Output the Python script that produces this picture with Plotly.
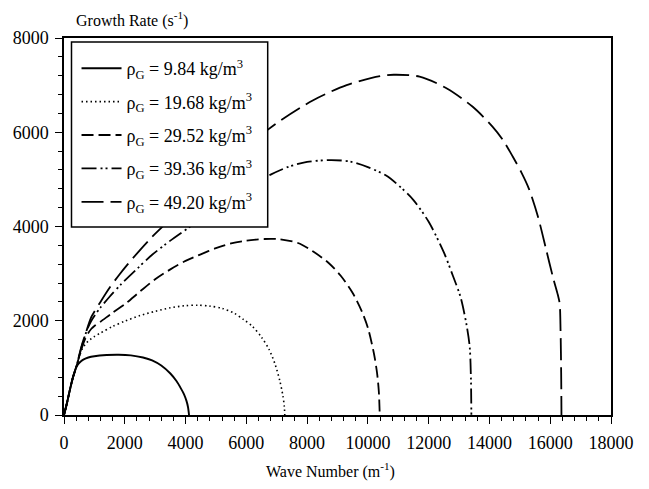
import plotly.graph_objects as go

# Growth rate vs. wave number for five gas densities
wave_number_1 = [0, 100, 200, 300, 400, 480, 560, 650, 800, 1000, 1400, 1800, 2200, 2600, 2900,
                 3200, 3500, 3700, 3850, 3950, 4030, 4080, 4115]
growth_rate_1 = [0, 260, 550, 810, 1010, 1090, 1140, 1180, 1220, 1248, 1272, 1278, 1265, 1220, 1160,
                 1050, 880, 720, 560, 440, 300, 170, 0]

wave_number_2 = [0, 100, 200, 300, 400, 500, 600, 700, 800, 900, 1000, 1200, 1600, 2000, 2500, 3000,
                 3500, 4000, 4400, 4800, 5200, 5600, 5900, 6200, 6500, 6750, 6950, 7100, 7200,
                 7250, 7265]
growth_rate_2 = [0, 260, 550, 810, 1010, 1230, 1400, 1500, 1570, 1620, 1665, 1740, 1880, 1990, 2110,
                 2200, 2275, 2320, 2330, 2310, 2265, 2160, 2030, 1880, 1650, 1390, 1070, 730, 420,
                 180, 0]

wave_number_3 = [0, 100, 200, 300, 400, 500, 600, 700, 800, 900, 1000, 1200, 1600, 2000, 2500,
                 3000, 3500, 4000, 4500, 5000, 5500, 6000, 6600, 7100, 7700, 8200, 8700, 9100,
                 9500, 9800, 10000, 10200, 10300, 10360, 10390]
growth_rate_3 = [0, 260, 550, 810, 1010, 1240, 1450, 1620, 1740, 1830, 1890, 1980, 2170, 2350, 2620,
                 2880, 3090, 3270, 3410, 3540, 3640, 3700, 3735, 3730, 3650, 3470, 3230, 2960,
                 2590, 2200, 1850, 1300, 900, 500, 0]

wave_number_4 = [0, 100, 200, 300, 400, 500, 600, 700, 800, 900, 1050, 1200, 1500, 1900, 2400, 2900,
                 3500, 4135, 5000, 6000, 6800, 7400, 8000, 8800, 9400, 10000, 10600, 11100,
                 11500, 12000, 12500, 12800, 13050, 13250, 13350, 13390, 13405]
growth_rate_4 = [0, 260, 550, 810, 1010, 1250, 1490, 1700, 1870, 2000, 2150, 2280, 2510, 2790, 3100,
                 3400, 3700, 3990, 4400, 4800, 5100, 5270, 5370, 5410, 5380, 5260, 5080, 4820,
                 4560, 4100, 3450, 2950, 2500, 1900, 1450, 800, 0]

wave_number_5 = [0, 100, 200, 300, 400, 500, 600, 737, 900, 1200, 1500, 1800, 2100, 2500, 2900,
                 3300, 4000, 5000, 6000, 6700, 7150, 8200, 9300, 10400, 10850, 11700, 12600,
                 13450, 14100, 14450, 14770, 15050, 15300, 15600, 15870, 16100, 16250, 16310,
                 16340, 16360, 16370]
growth_rate_5 = [0, 260, 550, 810, 1010, 1270, 1510, 1780, 2080, 2400, 2700, 2960, 3200, 3500, 3780,
                 4030, 4450, 5050, 5650, 6050, 6260, 6680, 7000, 7190, 7220, 7180, 6930,
                 6540, 6120, 5830, 5480, 5150, 4800, 4200, 3500, 2900, 2550, 2370,
                 1800, 900, 0]

series_labels = [
    "ρ<sub>G</sub> = 9.84 kg/m<sup>3</sup>",
    "ρ<sub>G</sub> = 19.68 kg/m<sup>3</sup>",
    "ρ<sub>G</sub> = 29.52 kg/m<sup>3</sup>",
    "ρ<sub>G</sub> = 39.36 kg/m<sup>3</sup>",
    "ρ<sub>G</sub> = 49.20 kg/m<sup>3</sup>",
]
x_tick_values = list(range(0, 18001, 2000))
x_tick_labels = [str(v) for v in x_tick_values]
y_tick_values = list(range(0, 8001, 2000))
y_tick_labels = [str(v) for v in y_tick_values]

series = [
    (wave_number_1, growth_rate_1, "solid", 1.9),
    (wave_number_2, growth_rate_2, "1.5px,3px", 1.6),
    (wave_number_3, growth_rate_3, "12px,5px", 1.8),
    (wave_number_4, growth_rate_4, "15px,4px,2px,3px,2px,4px", 1.8),
    (wave_number_5, growth_rate_5, "22px,7px", 1.8),
]

FONT = "Liberation Serif, Times New Roman, serif"

fig = go.Figure()
for i, (xs, ys, dash, w) in enumerate(series):
    fig.add_trace(go.Scatter(
        x=xs, y=ys, mode="lines", name=series_labels[i],
        line=dict(color="black", width=w, dash=dash, shape="spline", smoothing=0.8),
        legendgroup=f"g{i}",
    ))

axis_common = dict(
    showgrid=False, zeroline=False, showline=True, linecolor="black", linewidth=1.5,
    mirror=True, ticks="outside", ticklen=7, tickwidth=1.3, tickcolor="black",
    tickfont=dict(family=FONT, size=18, color="black"),
)
fig.update_xaxes(
    range=[0, 18000], tickvals=x_tick_values, ticktext=x_tick_labels, ticklabelstandoff=4,
    minor=dict(dtick=400, tick0=0, ticks="outside", ticklen=4, tickwidth=1.1, tickcolor="black"),
    **axis_common,
)
fig.update_yaxes(
    range=[0, 8000], tickvals=y_tick_values, ticktext=y_tick_labels, ticklabelstandoff=3,
    minor=dict(dtick=400, tick0=0, ticks="outside", ticklen=4, tickwidth=1.1, tickcolor="black"),
    **axis_common,
)

# White legend panel with a thin frame, covering the curves behind it
fig.add_shape(
    type="rect", xref="paper", yref="paper",
    x0=0.0137, x1=0.3724, y0=0.4987, y1=0.9894,
    fillcolor="white", line=dict(color="black", width=1.5), layer="above",
)

fig.add_annotation(
    text="Growth Rate (s<sup>-1</sup>)", xref="paper", yref="paper",
    x=0.019, y=1.048, xanchor="left", yanchor="middle", showarrow=False,
    font=dict(family=FONT, size=16, color="black"),
)
fig.add_annotation(
    text="Wave Number (m<sup>-1</sup>)", xref="paper", yref="paper",
    x=0.488, y=-0.146, xanchor="center", yanchor="middle", showarrow=False,
    font=dict(family=FONT, size=16, color="black"),
)

fig.update_layout(
    width=649, height=489, autosize=False,
    margin=dict(l=64, r=38, t=38, b=74),
    plot_bgcolor="white", paper_bgcolor="white",
    showlegend=True,
    legend=dict(
        x=0.0229, y=0.9682, xanchor="left", yanchor="top",
        bgcolor="rgba(0,0,0,0)", borderwidth=0,
        font=dict(family=FONT, size=18, color="black"),
        tracegroupgap=7, itemwidth=40,
    ),
)

fig.write_html("out.html")
